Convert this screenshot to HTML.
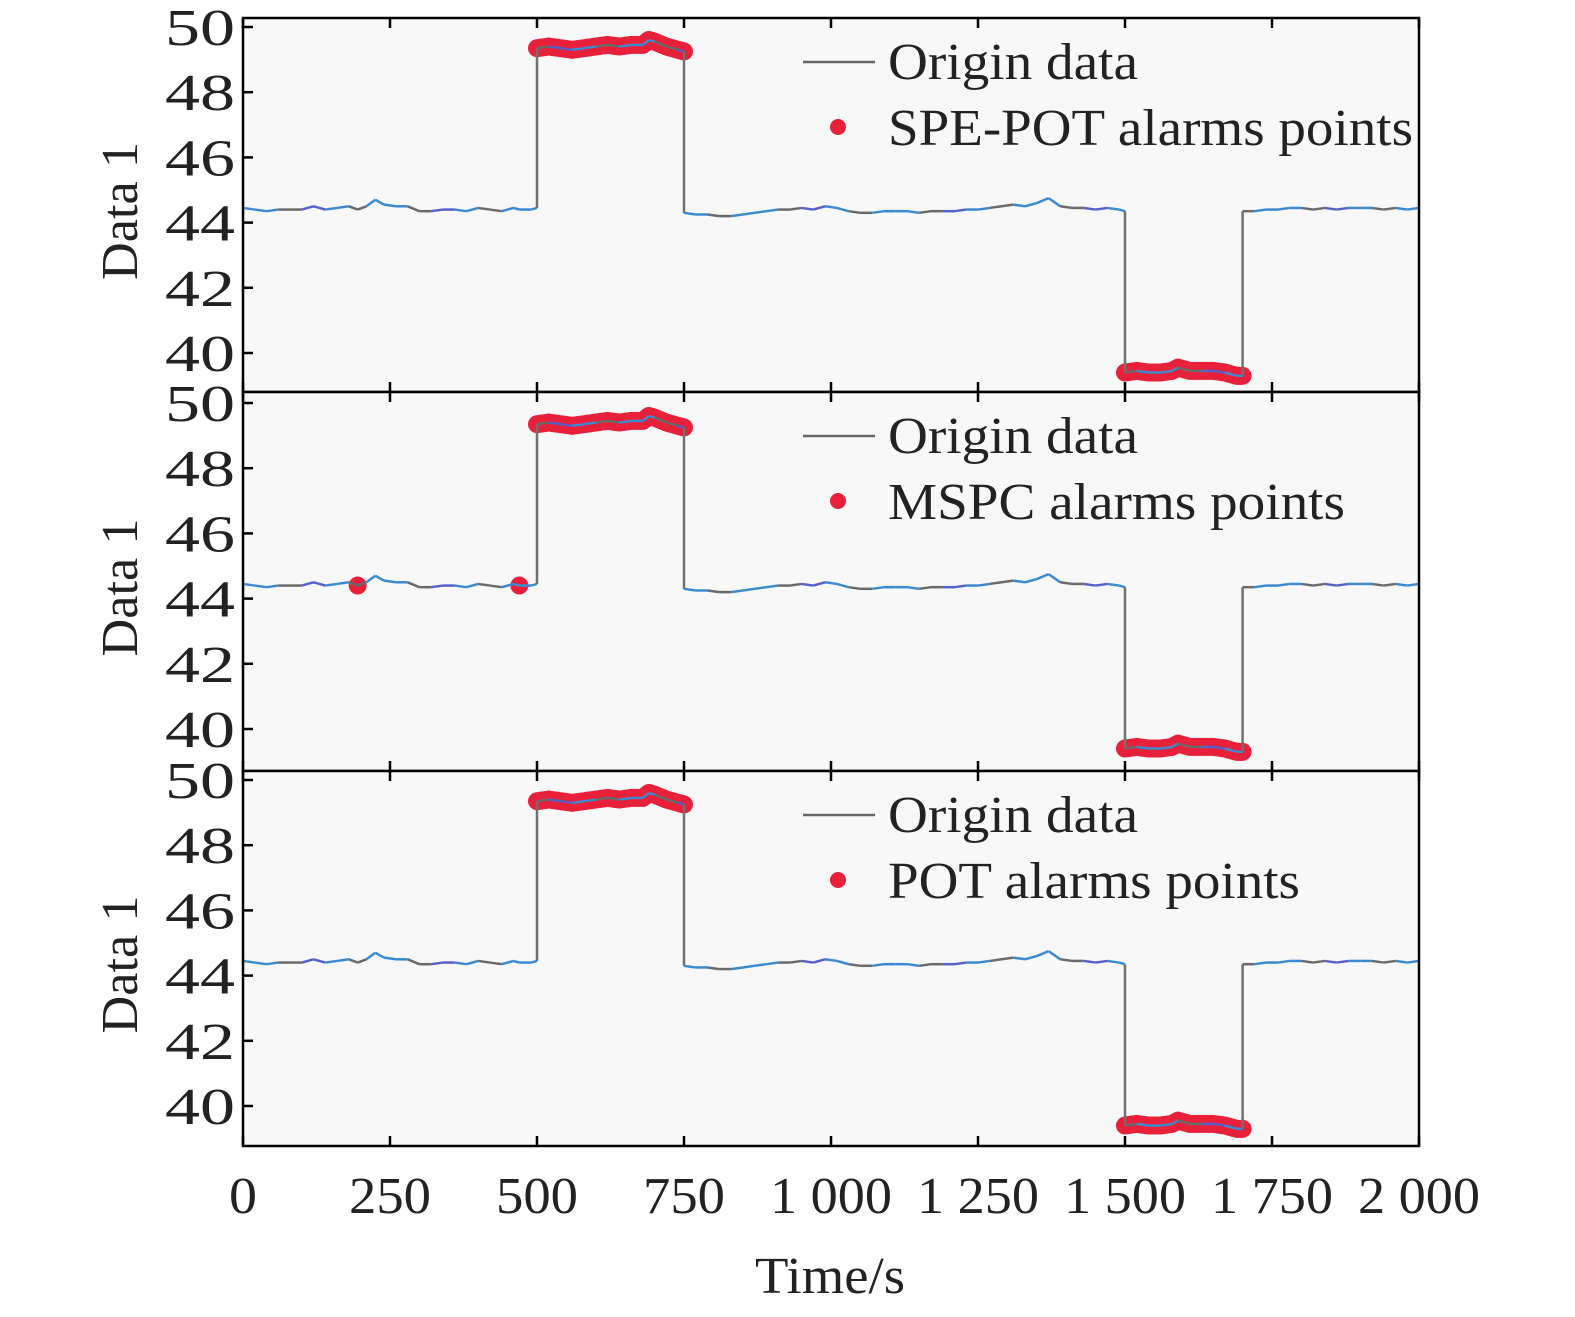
<!DOCTYPE html>
<html><head><meta charset="utf-8"><style>
body{margin:0;background:#fff;}
svg{display:block;font-family:"Liberation Serif",serif;}
</style></head><body>
<svg id="c" width="1575" height="1317" viewBox="0 0 1575 1317">
<rect width="1575" height="1317" fill="#ffffff"/>
</svg>
<script>
// data
const times = [0,20,40,60,80,100,120,140,160,180,195,210,225,240,260,280,300,320,340,360,380,400,420,440,460,470,490,500,
 500,520,540,560,580,600,620,640,660,680,690,700,720,740,750,
 750,770,790,810,830,850,870,890,910,930,950,970,990,1010,1030,1050,1070,1090,1110,1130,1150,1170,1190,1210,1230,1250,1270,1290,1310,1330,1350,1370,1390,1410,1430,1450,1470,1490,1500,
 1500,1520,1540,1560,1580,1590,1610,1630,1650,1670,1690,1700,
 1700,1720,1740,1760,1780,1800,1820,1840,1860,1880,1900,1920,1940,1960,1980,2000];
const values = [44.45,44.4,44.35,44.4,44.4,44.4,44.5,44.4,44.45,44.5,44.4,44.5,44.7,44.55,44.5,44.5,44.35,44.35,44.4,44.4,44.35,44.45,44.4,44.35,44.45,44.4,44.4,44.45,
 49.35,49.4,49.35,49.3,49.35,49.4,49.45,49.4,49.45,49.45,49.6,49.55,49.4,49.3,49.25,
 44.3,44.25,44.25,44.2,44.2,44.25,44.3,44.35,44.4,44.4,44.45,44.4,44.5,44.45,44.35,44.3,44.3,44.35,44.35,44.35,44.3,44.35,44.35,44.35,44.4,44.4,44.45,44.5,44.55,44.5,44.6,44.75,44.5,44.45,44.45,44.4,44.45,44.4,44.35,
 39.4,39.45,39.4,39.4,39.45,39.55,39.45,39.45,39.45,39.4,39.3,39.3,
 44.35,44.35,44.4,44.4,44.45,44.45,44.4,44.45,44.4,44.45,44.45,44.45,44.4,44.45,44.4,44.45];
const alarmRanges1 = [[500,750],[1500,1700]];
const alarmRanges2 = [[195,195],[470,470],[500,750],[1500,1700]];
const alarmRanges3 = [[500,750],[1500,1700]];
const alarmLabels = ["SPE-POT alarms points","MSPC alarms points","POT alarms points"];
const yTicks = [40,42,44,46,48,50];
const xTicks = [0,250,500,750,1000,1250,1500,1750,2000];
const xTickLabels = ["0","250","500","750","1 000","1 250","1 500","1 750","2 000"];

const NS="http://www.w3.org/2000/svg";
const svg=document.getElementById('c');
function mk(tag,attrs,parent){const e=document.createElementNS(NS,tag);for(const k in attrs)e.setAttribute(k,attrs[k]);(parent||svg).appendChild(e);return e;}
function fit(el,len){el.setAttribute('textLength',len);el.setAttribute('lengthAdjust','spacingAndGlyphs');}
const X0=243,X1=1419;
const xs=t=>X0+(t/2000)*(X1-X0);
const panels=[{top:18,bot:392,y50:27,ranges:alarmRanges1},{top:392,bot:771,y50:403,ranges:alarmRanges2},{top:771,bot:1146,y50:780,ranges:alarmRanges3}];
const PX=32.6;
const legW=[525,457,412];
panels.forEach((p,pi)=>{
  const g=mk('g',{});
  
  
  const ys=v=>p.y50+(50-v)*PX;
  const bg=mk('rect',{x:X0,y:p.top,width:X1-X0,height:p.bot-p.top,fill:'#f8f8f8'},g);
  
  
  // alarm dots (dense band along the data inside alarm ranges)
  const inAlarm=(t,v)=>p.ranges.some(r=>t>=r[0]&&t<=r[1]&&(r[0]===r[1]||Math.abs(v-44.4)>2));
  for(let i=0;i<times.length;i++){
    if(!inAlarm(times[i],values[i]))continue;
    const pts=[[times[i],values[i]]];
    if(i+1<times.length&&inAlarm(times[i+1],values[i+1])&&Math.abs(values[i+1]-values[i])<2){
      for(let k=1;k<4;k++){const f=k/4;pts.push([times[i]+(times[i+1]-times[i])*f,values[i]+(values[i+1]-values[i])*f]);}
    }
    pts.forEach(q=>{
      const d=mk('circle',{cx:xs(q[0]),cy:ys(q[1]),r:9,fill:'#e8203a'},g);
      
      
    });
  }
  // line
  const cols=['#3b8ad0','#3b8ad0','#6a6a6a','#5560c8','#3b8ad0','#6a6a6a'];
  for(let i=1;i<times.length;i++){
    const step=Math.abs(values[i]-values[i-1])>2;
    const l=mk('line',{x1:xs(times[i-1]),y1:ys(values[i-1]),x2:xs(times[i]),y2:ys(values[i]),stroke:step?'#707070':cols[Math.floor(i/2)%cols.length],'stroke-width':2.5},g);
    
    
  }
  const fr=mk('rect',{x:X0,y:p.top,width:X1-X0,height:p.bot-p.top,fill:'none',stroke:'#000','stroke-width':2.5},g);
  
  
  yTicks.forEach(v=>{
    const y=ys(v);
    const tk=mk('line',{x1:X0,y1:y,x2:X0+10,y2:y,stroke:'#000','stroke-width':2.5},g);
    
    
    const tx=mk('text',{x:165,y:y+18,'font-size':52,fill:'#222'},g);
    tx.textContent=v;
    fit(tx,70);
    
    
  });
  xTicks.forEach(t=>{
    const a=mk('line',{x1:xs(t),y1:p.bot,x2:xs(t),y2:p.bot-10,stroke:'#000','stroke-width':2.5},g);
    
    
    const b=mk('line',{x1:xs(t),y1:p.top,x2:xs(t),y2:p.top+10,stroke:'#000','stroke-width':2.5},g);
    
    
  });
  const cy=(p.top+p.bot)/2+6;
  const yt=mk('text',{x:0,y:0,transform:`translate(137,${cy}) rotate(-90)`,'text-anchor':'middle','font-size':52,fill:'#222'},g);
  yt.textContent='Data 1';
  fit(yt,138);
  
  
  const ly=p.top+44;
  const ll=mk('line',{x1:803,y1:ly,x2:875,y2:ly,stroke:'#666','stroke-width':2.5},g);
  
  
  const lt=mk('text',{x:888,y:ly+17,'font-size':52,fill:'#222'},g);
  lt.textContent='Origin data';
  fit(lt,250);
  
  
  const ld=mk('circle',{cx:838,cy:ly+65,r:8,fill:'#e8203a'},g);
  
  
  const lt2=mk('text',{x:888,y:ly+83,'font-size':52,fill:'#222'},g);
  lt2.textContent=alarmLabels[pi];
  fit(lt2,legW[pi]);
  
  
});
xTicks.forEach((t,i)=>{
  const tx=mk('text',{x:xs(t),y:1213,'text-anchor':'middle','font-size':52,fill:'#222'});
  tx.textContent=xTickLabels[i];
  const w=xTickLabels[i].length===1?28:xTickLabels[i].length===3?82:122;
  fit(tx,w);
  
  
});
const xt=mk('text',{x:830,y:1293,'text-anchor':'middle','font-size':52,fill:'#222'});
xt.textContent='Time/s';
fit(xt,150);


</script>
</body></html>
